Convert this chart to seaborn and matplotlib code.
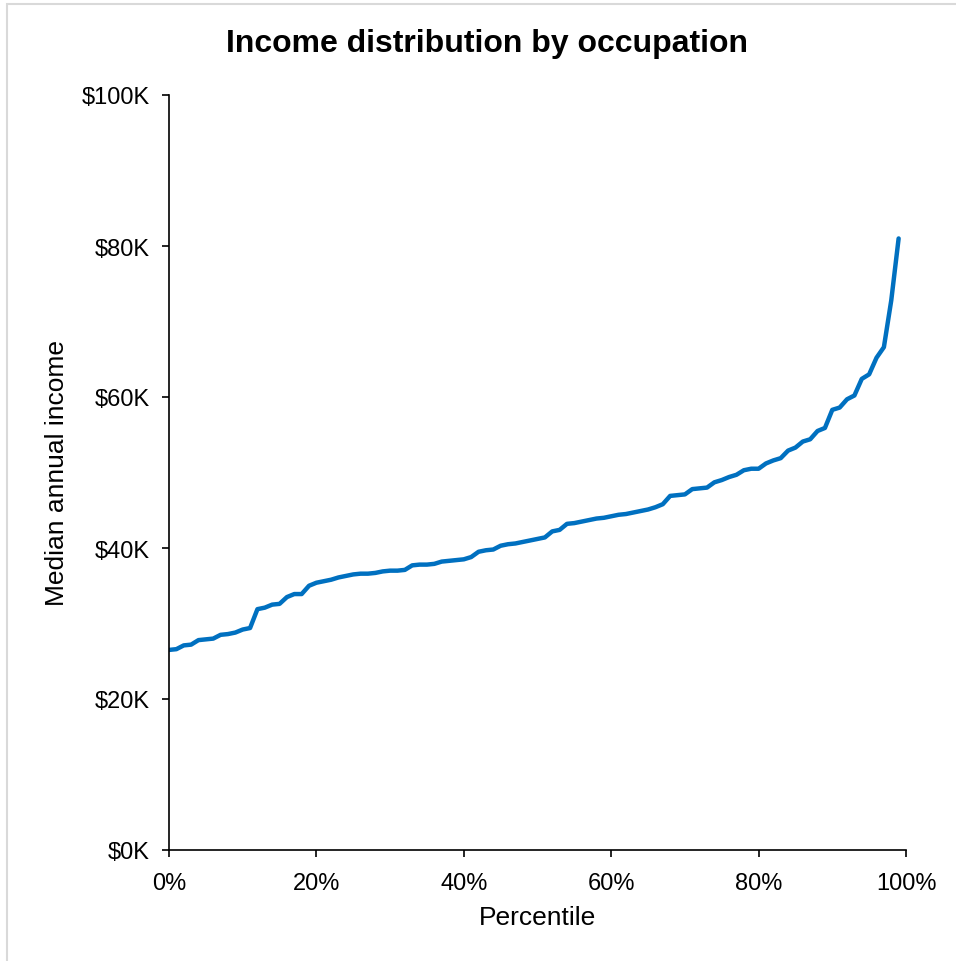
import numpy as np
import pandas as pd
import seaborn as sns
import matplotlib as mpl
import matplotlib.pyplot as plt
from matplotlib.ticker import FuncFormatter

sns.set_theme(style="white")
mpl.rcParams['font.family'] = ['Liberation Sans', 'DejaVu Sans']

# percentile (0..99) and median annual income in $K
percentile = list(range(100))
income_k = [
    26.5, 26.6, 27.1, 27.2, 27.8, 27.9, 28.0, 28.5, 28.6, 28.8,
    29.2, 29.4, 31.9, 32.1, 32.5, 32.6, 33.5, 33.9, 33.9, 35.0,
    35.4, 35.6, 35.8, 36.1, 36.3, 36.5, 36.6, 36.6, 36.7, 36.9,
    37.0, 37.0, 37.1, 37.7, 37.8, 37.8, 37.9, 38.2, 38.3, 38.4,
    38.5, 38.8, 39.5, 39.7, 39.8, 40.3, 40.5, 40.6, 40.8, 41.0,
    41.2, 41.4, 42.2, 42.4, 43.2, 43.3, 43.5, 43.7, 43.9, 44.0,
    44.2, 44.4, 44.5, 44.7, 44.9, 45.1, 45.4, 45.8, 46.9, 47.0,
    47.1, 47.8, 47.9, 48.0, 48.7, 49.0, 49.4, 49.7, 50.3, 50.5,
    50.5, 51.2, 51.6, 51.9, 52.9, 53.3, 54.1, 54.4, 55.5, 55.9,
    58.3, 58.6, 59.7, 60.2, 62.4, 63.0, 65.2, 66.6, 72.8, 81.0,
]

df = pd.DataFrame({'pct': percentile, 'income': income_k})

fig = plt.figure(figsize=(9.56, 9.62), dpi=100)
ax = fig.add_axes([169 / 956, 1 - 851 / 962, 737 / 956, 755 / 962])

sns.lineplot(data=df, x='pct', y='income', color='#0070C0', linewidth=3.2, ax=ax)

ax.set_xlim(0, 100)
ax.set_ylim(0, 100)
ax.set_xticks(range(0, 101, 20))
ax.set_yticks(range(0, 101, 20))
ax.xaxis.set_major_formatter(FuncFormatter(lambda v, p: "%d%%" % v))
ax.yaxis.set_major_formatter(FuncFormatter(lambda v, p: "$%dK" % v))
ax.tick_params(axis='both', which='major', direction='out', length=5, width=1.2,
               color='black', labelsize=17, labelcolor='black',
               bottom=True, left=True)
ax.tick_params(axis='x', pad=11)
ax.tick_params(axis='y', pad=9)
for s in ['top', 'right']:
    ax.spines[s].set_visible(False)
for s in ['left', 'bottom']:
    ax.spines[s].set_color('black')
    ax.spines[s].set_linewidth(1.2)

ax.set_xlabel('Percentile', fontsize=19, color='black', labelpad=8)
ax.set_ylabel('Median annual income', fontsize=19, color='black', labelpad=9)
fig.suptitle('Income distribution by occupation', x=487 / 956, y=1 - 44 / 962,
             va='center', fontsize=23, fontweight='bold', color='black')

# light frame around the chart area
fig.add_artist(plt.Rectangle((7 / 956, -0.01), 1.0, 1 - 5 / 962 + 0.01,
                             transform=fig.transFigure, fill=False,
                             edgecolor='#d9d9d9', linewidth=1.5))

fig.savefig('out.png', dpi=100)
